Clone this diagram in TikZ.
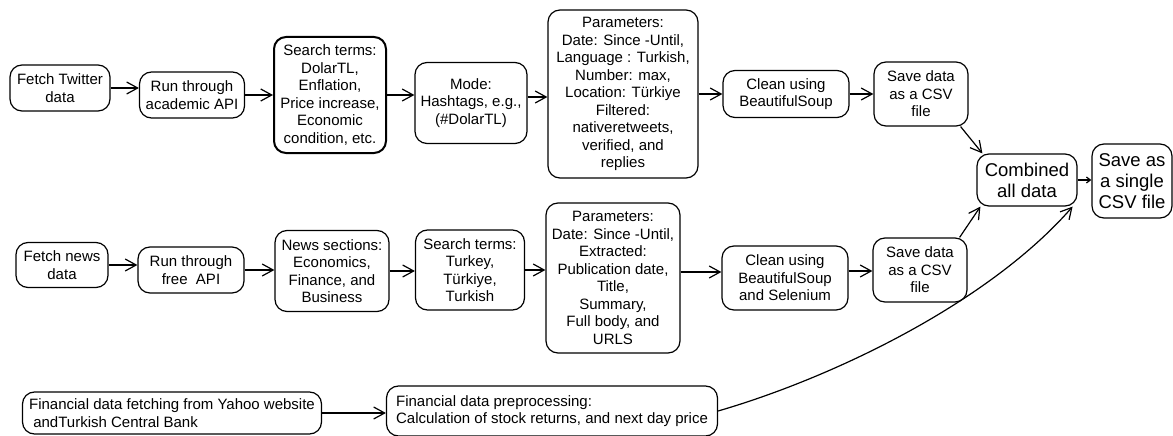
\documentclass[tikz,border=0pt]{standalone}
\usepackage{fontspec}
\setmainfont{Liberation Sans}
\usepackage{xcolor}
\usepackage{tikz}
\usetikzlibrary{arrows.meta}

\begin{document}
\begin{tikzpicture}[x=1pt, y=-1pt,
        every node/.style={font=\fontsize{15}{17.5}\selectfont},
        box/.style={draw, line width=1.2pt, rounded corners=12pt, align=center, inner sep=2pt},
        bigbox/.style={box, font=\fontsize{18.5}{21}\selectfont},
        arr/.style={-{Straight Barb[length=11pt,width=12pt]}, line width=1.2pt}]
        \useasboundingbox (0,0) rectangle (1173,436);

        % Twitter row
        \node[box, minimum width=100, minimum height=46] (ftw) at (60,88) {Fetch Twitter\\data};
        \node[box, minimum width=105, minimum height=46] (runacad) at (192,95) {Run through\\academic API};
        \node[box, line width=2pt, minimum width=112, minimum height=116] (termstw) at (330,95)
            {Search terms:\\DolarTL,\\Enflation,\\Price increase,\\Economic\\condition, etc.};
        \node[box, minimum width=112, minimum height=81] (mode) at (471,103) {Mode:\\Hashtags, e.g.,\\(\#DolarTL)};
        \node[box, minimum width=150, minimum height=168] (paramtw) at (623,94)
            {Parameters:\\Date: Since -Until,\\Language : Turkish,\\Number: max,\\Location: Türkiye\\Filtered:\\nativeretweets,\\verified, and\\replies};
        \node[box, minimum width=126, minimum height=47] (cleantw) at (786,94) {Clean using\\BeautifulSoup};
        \node[box, minimum width=94, minimum height=64] (savetw) at (921,94) {Save data\\as a CSV\\file};

        % news row
        \node[box, minimum width=92, minimum height=45] (fnews) at (62,265) {Fetch news\\data};
        \node[box, minimum width=106, minimum height=46] (runfree) at (191,270) {Run through\\free~~API};
        \node[box, minimum width=114, minimum height=81] (sections) at (332,271) {News sections:\\Economics,\\Finance, and\\Business};
        \node[box, minimum width=109, minimum height=80] (termsnews) at (470,270) {Search terms:\\Turkey,\\Türkiye,\\Turkish};
        \node[box, minimum width=134, minimum height=150] (paramnews) at (613,278)
            {Parameters:\\Date: Since -Until,\\Extracted:\\Publication date,\\Title,\\Summary,\\Full body, and\\URLS};
        \node[box, minimum width=126, minimum height=64] (cleannews) at (785,278) {Clean using\\BeautifulSoup\\and Selenium};
        \node[box, minimum width=94, minimum height=64] (savenews) at (920,270) {Save data\\as a CSV\\file};

        % financial row
        \node[box, align=left, minimum width=299, minimum height=42] (ffetch) at (172,413)
            {Financial data fetching from Yahoo website\\\ andTurkish Central Bank};
        \node[box, align=left, minimum width=331, minimum height=50] (fprep) at (552,411)
            {Financial data preprocessing:\\Calculation of stock returns, and next day price};

        % merge
        \node[bigbox, minimum width=100, minimum height=52] (comb) at (1027,180) {Combined\\all data};
        \node[bigbox, minimum width=80, minimum height=74] (single) at (1132,181) {Save as\\a single\\CSV file};

        \draw[arr] (ftw.east) -- (ftw.east -| runacad.west);
        \draw[arr] (runacad.east) -- (runacad.east -| termstw.west);
        \draw[arr] (termstw.east) -- (termstw.east -| mode.west);
        \draw[arr] ([yshift=6pt]mode.east) -- ([yshift=6pt]mode.east -| paramtw.west);
        \draw[arr] (paramtw.east) -- (paramtw.east -| cleantw.west);
        \draw[arr] (cleantw.east) -- (cleantw.east -| savetw.west);

        \draw[arr] (fnews.east) -- (fnews.east -| runfree.west);
        \draw[arr] (runfree.east) -- (runfree.east -| sections.west);
        \draw[arr] (sections.east) -- (sections.east -| termsnews.west);
        \draw[arr] (termsnews.east) -- (termsnews.east -| paramnews.west);
        \draw[arr] ([yshift=6pt]paramnews.east) -- ([yshift=6pt]paramnews.east -| cleannews.west);
        \draw[arr] ([yshift=7pt]cleannews.east) -- ([yshift=7pt]cleannews.east -| savenews.west);

        \draw[arr] (ffetch.east) -- (ffetch.east -| fprep.west);

        \draw[arr] ([xshift=-8pt]savetw.south east) -- ([xshift=6pt]comb.north west);
        \draw[arr] ([xshift=-8pt]savenews.north east) -- ([xshift=4pt]comb.south west);
        \draw[arr] (fprep.east) .. controls +(120,-35) and +(-82,94) .. ([xshift=-5pt]comb.south east);
        \draw[-{Straight Barb[length=4pt,width=6pt]}, line width=1.2pt] (comb.east) -- (comb.east -| single.west);
    \end{tikzpicture}
\end{document}
